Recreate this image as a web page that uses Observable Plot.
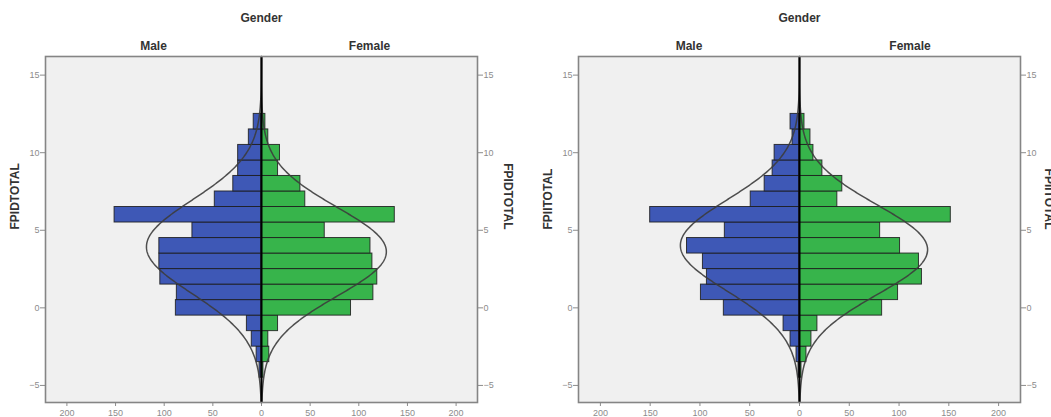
<!DOCTYPE html>
<html>
<head>
<meta charset="utf-8">
<script src="https://cdn.jsdelivr.net/npm/d3@7"></script>
<script src="https://cdn.jsdelivr.net/npm/@observablehq/plot@0.6"></script>
<style>
  body { margin: 0; background: #fff; font-family: "Liberation Sans", Arial, sans-serif; }
  #wrap { display: flex; width: 1051px; height: 417px; overflow: hidden; }
  #wrap svg { display: block; flex-shrink: 0; }
</style>
</head>
<body>
<div id="wrap"></div>
<script>
// ---- data ----
const scoreBins   = [-4, -3, -2, -1, 0, 1, 2, 3, 4, 5, 6, 7, 8, 9, 10, 11, 12];
const fpidMale    = [2, 5, 10, 15, 88, 87, 104, 105, 105, 71, 151, 48, 29, 24, 24, 13, 8];
const fpidFemale  = [2, 8, 7, 17, 92, 115, 119, 114, 112, 65, 137, 45, 40, 17, 19, 7, 4];
const fpiiMale    = [1, 3, 9, 16, 76, 99, 93, 97, 113, 75, 150, 49, 35, 27, 25, 7, 9];
const fpiiFemale  = [2, 7, 12, 18, 83, 99, 123, 120, 101, 81, 152, 38, 43, 23, 14, 11, 5];
const genderLabels = ["Male", "Female"];
const panelTitle   = "Gender";
const panelVars    = ["FPIDTOTAL", "FPIITOTAL"];
const xTicks = [-200, -150, -100, -50, 0, 50, 100, 150, 200];
const yTicks = [-5, 0, 5, 10, 15];
const xDomain = [-222, 222];
const yDomain = [-6.1, 16.2];

const FONT = '"Liberation Sans", Arial, sans-serif';

function normalCurve(counts, sign) {
  const n = d3.sum(counts);
  const mean = d3.sum(counts, (c, i) => c * scoreBins[i]) / n;
  const sd = Math.sqrt(d3.sum(counts, (c, i) => c * (scoreBins[i] - mean) ** 2) / n);
  const ys = d3.range(yDomain[0], yDomain[1] + 1e-9, 0.05);
  return ys.map(y => ({
    y,
    x: sign * n / (sd * Math.sqrt(2 * Math.PI)) * Math.exp(-0.5 * ((y - mean) / sd) ** 2)
  }));
}

function panel({male, female, varName, width, marginLeft, marginRight, rightDx}) {
  const bars = scoreBins.flatMap((v, i) => [
    {g: "Male", y1: v - 0.5, y2: v + 0.5, x1: 0, x2: -male[i]},
    {g: "Female", y1: v - 0.5, y2: v + 0.5, x1: 0, x2: female[i]}
  ]);
  const txt = {fill: "#333", fontWeight: "bold", fontSize: 12, lineAnchor: "middle"};
  return Plot.plot({
    width, height: 417,
    marginTop: 56, marginBottom: 15, marginLeft, marginRight,
    style: {background: "#fff", color: "#8c8c8c", fontSize: "9px", fontFamily: FONT},
    x: {domain: xDomain, ticks: xTicks, tickFormat: d => Math.abs(d), tickSize: 4, tickPadding: 3, label: null},
    y: {domain: yDomain, ticks: yTicks, axis: "both", tickSize: 5, tickPadding: 1, label: null},
    color: {domain: genderLabels, range: ["#3e58b6", "#37b44b"]},
    marks: [
      Plot.frame({fill: "#f0f0f0", stroke: "none"}),
      Plot.rect(bars, {x1: "x1", x2: "x2", y1: "y1", y2: "y2", fill: "g", stroke: "#1c1c1c", strokeWidth: 1, strokeOpacity: 0.85}),
      Plot.line(normalCurve(male, -1), {x: "x", y: "y", stroke: "#3c3c3c", strokeWidth: 1.5, strokeOpacity: 0.9}),
      Plot.line(normalCurve(female, 1), {x: "x", y: "y", stroke: "#3c3c3c", strokeWidth: 1.5, strokeOpacity: 0.9}),
      Plot.ruleX([0], {stroke: "#000", strokeWidth: 2}),
      Plot.frame({stroke: "#858585", strokeWidth: 1.6}),
      Plot.text([panelTitle], {...txt, text: d => d, frameAnchor: "top", dy: -38}),
      Plot.text(genderLabels, {...txt, text: d => d, x: d => d === "Male" ? xDomain[0] / 2 : xDomain[1] / 2,
        frameAnchor: "top", dy: -10.5}),
      Plot.text([varName], {...txt, text: d => d, frameAnchor: "left", dx: -30, rotate: -90}),
      Plot.text([varName], {...txt, text: d => d, frameAnchor: "right", dx: rightDx, rotate: 90})
    ]
  });
}

const wrap = document.getElementById("wrap");
wrap.appendChild(panel({male: fpidMale, female: fpidFemale, varName: panelVars[0], width: 525, marginLeft: 45, marginRight: 48, rightDx: 30}));
wrap.appendChild(panel({male: fpiiMale, female: fpiiFemale, varName: panelVars[1], width: 526, marginLeft: 53, marginRight: 31, rightDx: 28}));
</script>
</body>
</html>
